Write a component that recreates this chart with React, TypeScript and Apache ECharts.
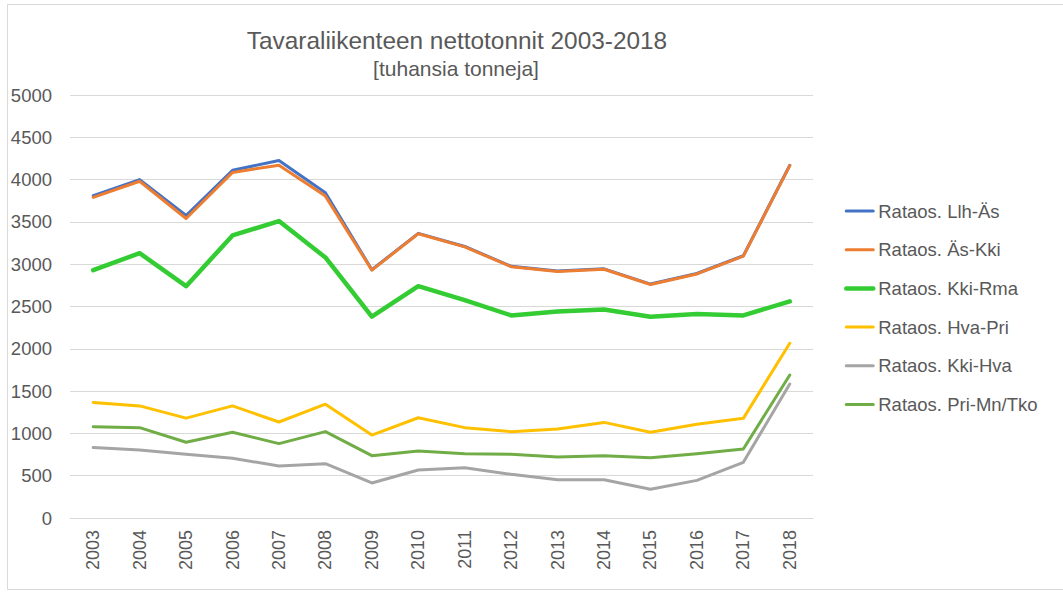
import React, { useEffect, useRef } from "react";
import * as echarts from "echarts";

const years = ["2003","2004","2005","2006","2007","2008","2009","2010","2011","2012","2013","2014","2015","2016","2017","2018"];
const llhAs = [3810, 4000, 3575, 4110, 4225, 3845, 2935, 3365, 3210, 2975, 2920, 2945, 2765, 2890, 3100, 4170];
const asKki = [3790, 3980, 3540, 4085, 4170, 3805, 2930, 3360, 3205, 2970, 2915, 2940, 2760, 2885, 3095, 4165];
const kkiRma = [2930, 3130, 2740, 3340, 3510, 3080, 2380, 2740, 2575, 2395, 2440, 2465, 2380, 2410, 2395, 2560];
const hvaPri = [1365, 1325, 1180, 1325, 1135, 1345, 980, 1185, 1068, 1020, 1052, 1130, 1013, 1108, 1178, 2065];
const kkiHva = [832, 804, 753, 706, 615, 642, 414, 567, 595, 516, 453, 453, 339, 445, 658, 1584];
const priMnTko = [1080, 1068, 895, 1013, 879, 1021, 737, 792, 760, 753, 721, 737, 713, 760, 816, 1690];

const seriesNames = ["Rataos. Llh-Äs", "Rataos. Äs-Kki", "Rataos. Kki-Rma", "Rataos. Hva-Pri", "Rataos. Kki-Hva", "Rataos. Pri-Mn/Tko"];
const seriesData = [llhAs, asKki, kkiRma, hvaPri, kkiHva, priMnTko];
const seriesColors = ["#4472C4", "#ED7D31", "#33CC33", "#FFC000", "#A5A5A5", "#70AD47"];
const seriesWidths = [3, 3, 4.5, 3, 3, 3];

const titleText = "Tavaraliikenteen nettotonnit 2003-2018";
const subtitleText = "[tuhansia tonneja]";

const FONT = "'Liberation Sans', Arial, sans-serif";
const TXT = "#595959";

export default function App() {
  const ref = useRef<HTMLDivElement>(null);
  useEffect(() => {
    if (!ref.current) return;
    const chart = echarts.init(ref.current, undefined, { renderer: "svg" });
    chart.setOption({
      animation: false,
      backgroundColor: "#ffffff",
      textStyle: { fontFamily: FONT, color: TXT },
      graphic: [
        { type: "rect", shape: { x: 7.5, y: 4.5, width: 1070, height: 585 }, style: { fill: "none", stroke: "#d9d9d9", lineWidth: 1 }, silent: true },
        { type: "text", x: 457, y: 40, style: { text: titleText, font: `24.4px ${FONT}`, fill: TXT, textAlign: "center", textVerticalAlign: "middle" } },
        { type: "text", x: 456, y: 68, style: { text: subtitleText, font: `21px ${FONT}`, fill: TXT, textAlign: "center", textVerticalAlign: "middle" } },
      ],
      legend: {
        orient: "vertical",
        left: 844,
        top: 201,
        padding: 0,
        itemWidth: 27,
        itemHeight: 20,
        itemGap: 18.7,
        itemStyle: { opacity: 0 },
        textStyle: { fontFamily: FONT, fontSize: 18.5, color: TXT, lineHeight: 20 },
        data: seriesNames.map((name, i) => ({
          name,
          lineStyle: { color: seriesColors[i], width: seriesWidths[i] },
        })),
      },
      grid: { left: 70, right: 250, top: 95, bottom: 74 },
      xAxis: {
        type: "category",
        data: years,
        boundaryGap: true,
        axisLine: { lineStyle: { color: "#d9d9d9", width: 1 } },
        axisTick: { show: false },
        axisLabel: { rotate: 90, fontSize: 18, color: TXT, fontFamily: FONT, margin: 12 },
      },
      yAxis: {
        type: "value",
        min: 0,
        max: 5000,
        interval: 500,
        axisLine: { show: false },
        axisTick: { show: false },
        splitLine: { lineStyle: { color: "#d9d9d9", width: 1 } },
        axisLabel: { fontSize: 18.5, color: TXT, fontFamily: FONT, margin: 18, formatter: (v: number) => String(v) },
      },
      series: seriesNames.map((name, i) => ({
        name,
        type: "line",
        data: seriesData[i],
        symbol: "none",
        showSymbol: false,
        color: seriesColors[i],
        lineStyle: { color: seriesColors[i], width: seriesWidths[i], join: "round", cap: "round" },
      })),
    });
    return () => chart.dispose();
  }, []);
  return <div ref={ref} style={{ position: "absolute", left: 0, top: 0, width: 1063, height: 592 }} />;
}
